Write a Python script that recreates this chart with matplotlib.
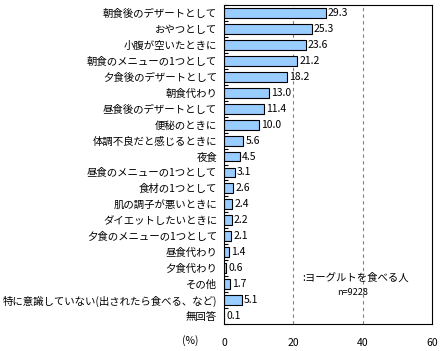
import matplotlib.pyplot as plt
import numpy as np

plt.rcParams['font.family'] = ['Noto Sans CJK JP', 'DejaVu Sans']

labels = ['朝食後のデザートとして', 'おやつとして', '小腹が空いたときに', '朝食のメニューの1つとして',
          '夕食後のデザートとして', '朝食代わり', '昼食後のデザートとして', '便秘のときに',
          '体調不良だと感じるときに', '夜食', '昼食のメニューの1つとして', '食材の1つとして',
          '肌の調子が悪いときに', 'ダイエットしたいときに', '夕食のメニューの1つとして', '昼食代わり',
          '夕食代わり', 'その他', '特に意識していない(出されたら食べる、など)', '無回答']
values = [29.3, 25.3, 23.6, 21.2, 18.2, 13.0, 11.4, 10.0, 5.6, 4.5, 3.1, 2.6, 2.4, 2.2, 2.1,
          1.4, 0.6, 1.7, 5.1, 0.1]

fig = plt.figure(figsize=(4.43, 3.51), dpi=100)
ax = fig.add_axes([224 / 443, 1 - 324 / 351, 208 / 443, 319 / 351])

y = np.arange(len(labels))
ax.barh(y, values, height=0.62, color='#99CCFF', edgecolor='black', linewidth=0.8)
for yi, v in zip(y, values):
    ax.text(v + 0.6, yi, f'{v:.1f}', va='center', ha='left', fontsize=7.5)

ax.set_xlim(0, 60)
ax.set_ylim(len(labels) - 0.5, -0.5)
ax.set_xticks([0, 20, 40, 60])
ax.tick_params(axis='x', length=0, labelsize=7.5, pad=10)
ax.set_yticks(y)
ax.set_yticklabels(labels, fontsize=7.5)
ax.tick_params(axis='y', length=0, pad=5)
ax.set_yticks(np.arange(len(labels) + 1) - 0.5, minor=True)
ax.tick_params(axis='y', which='minor', direction='in', length=3, width=0.8)
for gx in [20, 40]:
    ax.axvline(gx, color='gray', linestyle=(0, (3, 3)), linewidth=0.8, zorder=0)
for s in ax.spines.values():
    s.set_linewidth(0.8)

fig.text(190 / 443, 1 - 341 / 351, '(%)', ha='center', va='center', fontsize=7.5)
ax.text(22.5, 16.6, ':ヨーグルトを食べる人', ha='left', va='center', fontsize=7.5)
ax.text(37, 17.5, 'n=9228', ha='center', va='center', fontsize=6.5)

fig.savefig('out.png', dpi=100)
